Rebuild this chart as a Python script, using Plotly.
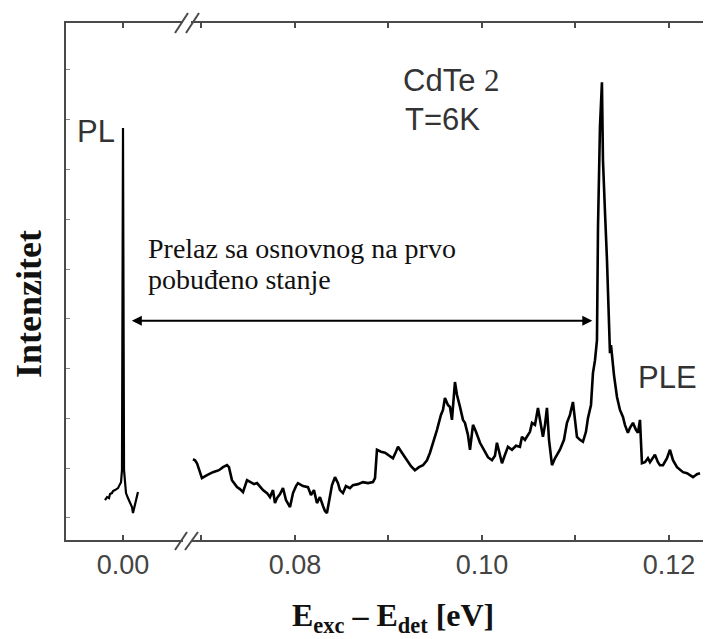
import plotly.graph_objects as go

# ---------------- data ----------------
# PL segment (left part of the broken axis), energy in eV, intensity in a.u.
pl_energy = [-0.00193, -0.00171, -0.00150, -0.00139, -0.00118, -0.00107, -0.00086, -0.00075,
             -0.00053, -0.00043, -0.00021, -0.00011, 0.00000, 0.00011, 0.00021, 0.00032,
             0.00053, 0.00075, 0.00096, 0.00107, 0.00118, 0.00139, 0.00160]
pl_intensity = [3.6, 4.2, 4.0, 4.8, 5.0, 5.4, 5.6, 5.8,
                6.0, 6.4, 7.2, 9.6, 78.3, 9.6, 6.6, 5.0,
                4.0, 3.0, 2.2, 1.0, 2.0, 3.6, 5.2]

# PLE segment (right part of the broken axis)
ple_energy = [0.06909, 0.06931, 0.06952, 0.07005, 0.07059, 0.07123, 0.07187, 0.07230, 0.07273, 0.07294,
              0.07326, 0.07358, 0.07380, 0.07412, 0.07444, 0.07487, 0.07519, 0.07562, 0.07594, 0.07626,
              0.07658, 0.07701, 0.07733, 0.07765, 0.07786, 0.07808, 0.07840, 0.07872, 0.07904, 0.07947,
              0.07979, 0.08011, 0.08032, 0.08086, 0.08139, 0.08171, 0.08203, 0.08235, 0.08267, 0.08300,
              0.08321, 0.08342, 0.08364, 0.08396, 0.08428, 0.08460, 0.08481, 0.08513, 0.08545, 0.08588,
              0.08620, 0.08674, 0.08727, 0.08781, 0.08834, 0.08856, 0.08877, 0.08920, 0.08963, 0.09005,
              0.09048, 0.09080, 0.09102, 0.09144, 0.09198, 0.09241, 0.09283, 0.09326, 0.09369, 0.09412,
              0.09444, 0.09487, 0.09519, 0.09561, 0.09583, 0.09604, 0.09636, 0.09658, 0.09679, 0.09711,
              0.09733, 0.09765, 0.09797, 0.09818, 0.09850, 0.09872, 0.09904, 0.09936, 0.09979, 0.10021,
              0.10064, 0.10107, 0.10139, 0.10160, 0.10182, 0.10214, 0.10246, 0.10278, 0.10321, 0.10364,
              0.10406, 0.10428, 0.10460, 0.10481, 0.10513, 0.10535, 0.10567, 0.10599, 0.10620, 0.10652,
              0.10674, 0.10695, 0.10717, 0.10749, 0.10781, 0.10834, 0.10877, 0.10909, 0.10941, 0.10973,
              0.10995, 0.11016, 0.11048, 0.11080, 0.11112, 0.11134, 0.11166, 0.11187, 0.11209, 0.11230,
              0.11241, 0.11262, 0.11283, 0.11294, 0.11315, 0.11337, 0.11369, 0.11380, 0.11412, 0.11444,
              0.11476, 0.11508, 0.11529, 0.11561, 0.11583, 0.11615, 0.11647, 0.11668, 0.11690, 0.11711,
              0.11743, 0.11775, 0.11797, 0.11829, 0.11850, 0.11882, 0.11904, 0.11936, 0.11979, 0.12011,
              0.12043, 0.12086, 0.12118, 0.12150, 0.12193, 0.12225, 0.12257, 0.12299, 0.12332]
ple_intensity = [11.8, 11.6, 11.0, 8.0, 8.6, 9.2, 9.6, 10.2, 10.6, 10.2,
                 7.6, 6.6, 6.2, 5.8, 5.2, 7.6, 7.2, 6.8, 7.0, 6.2,
                 5.6, 5.0, 4.2, 5.6, 3.0, 4.0, 4.8, 6.0, 3.6, 2.2,
                 5.0, 6.4, 7.0, 6.4, 6.2, 4.6, 5.6, 3.0, 4.2, 2.4,
                 1.4, 1.0, 3.6, 6.6, 8.2, 7.0, 5.6, 5.0, 6.4, 6.0,
                 6.6, 6.8, 7.2, 7.0, 7.2, 8.0, 13.7, 13.3, 13.1, 12.5,
                 12.0, 13.3, 14.3, 13.1, 11.6, 10.4, 9.6, 10.2, 10.6, 11.6,
                 13.1, 15.7, 17.7, 20.7, 21.7, 24.1, 22.7, 22.3, 19.7, 27.3,
                 24.7, 22.3, 19.7, 19.1, 16.7, 13.7, 18.7, 17.3, 15.1, 13.7,
                 12.2, 11.6, 12.5, 15.1, 13.3, 11.0, 12.7, 14.3, 13.7, 14.5,
                 14.3, 16.3, 15.7, 16.3, 17.3, 19.1, 18.7, 22.1, 19.7, 16.3,
                 18.7, 22.1, 15.7, 10.6, 12.0, 13.7, 15.7, 19.1, 20.7, 23.3,
                 19.7, 16.3, 15.7, 15.3, 17.3, 20.1, 22.7, 29.1, 31.7, 35.7,
                 58.4, 78.5, 87.5, 71.9, 61.8, 51.8, 33.1, 34.7, 28.7, 24.3,
                 21.7, 20.3, 18.7, 17.1, 18.1, 19.1, 17.7, 17.1, 19.7, 11.0,
                 11.2, 12.0, 11.2, 12.0, 12.7, 11.2, 10.6, 10.6, 12.0, 13.7,
                 11.6, 10.2, 9.6, 9.2, 9.0, 8.6, 8.2, 8.8, 9.0]

left_ticks = [0.00]
left_ticklabels = ["0.00"]
right_ticks = [0.08, 0.10, 0.12]
right_ticklabels = ["0.08", "0.10", "0.12"]

# ---------------- figure ----------------
W, H = 705, 639
ML, MR, MT, MB = 66, 2, 23, 99
PW, PH = W - ML - MR, H - MT - MB

def px(x):
    return (x - ML) / PW

def py(y):
    return (H - MB - y) / PH

AXC = "#4a4a4a"
TICKFONT = dict(family="Liberation Sans, Arial, sans-serif", size=27, color="#444444")
SANS = "Liberation Sans, Arial, sans-serif"
SERIF = "Liberation Serif, Times New Roman, serif"

fig = go.Figure()
fig.add_trace(go.Scatter(x=pl_energy, y=pl_intensity, xaxis="x", yaxis="y", mode="lines",
                         line=dict(color="black", width=2.2), showlegend=False, hoverinfo="skip"))
fig.add_trace(go.Scatter(x=ple_energy, y=ple_intensity, xaxis="x2", yaxis="y", mode="lines",
                         line=dict(color="black", width=2.6), showlegend=False, hoverinfo="skip"))

common_x = dict(showgrid=False, zeroline=False, showline=True, linecolor=AXC, linewidth=2,
                mirror="ticks", ticks="inside", ticklen=5, tickwidth=1.5, tickcolor=AXC,
                tickfont=TICKFONT, ticklabelstandoff=0)

fig.update_layout(
    width=W, height=H,
    margin=dict(l=ML, r=MR, t=MT, b=MB, pad=0),
    paper_bgcolor="white", plot_bgcolor="white",
    xaxis=dict(domain=[0, px(183)], range=[-0.0061, 0.00642],
               tickvals=left_ticks, ticktext=left_ticklabels, anchor="y", **common_x),
    xaxis2=dict(domain=[px(191), 1], range=[0.06888, 0.12364],
                tickvals=right_ticks, ticktext=right_ticklabels, anchor="y",
                minor=dict(ticks="inside", dtick=0.01, tick0=0.0, ticklen=5,
                           tickwidth=1.5, tickcolor=AXC),
                **common_x),
    yaxis=dict(domain=[0, 1], range=[-4.42, 99.4], showgrid=False, zeroline=False,
               showline=True, linecolor=AXC, linewidth=2, ticks="inside", ticklen=4,
               tickwidth=1.2, tickcolor="#888888", dtick=10, tick0=0, showticklabels=False,
               anchor="x"),
)

# axis break marks "//"
for (x0, y0, x1, y1) in [(175, 550, 187, 532), (185, 550, 198, 532),
                         (175, 33, 188, 13), (186, 33, 199, 13)]:
    fig.add_shape(type="line", xref="paper", yref="paper",
                  x0=px(x0), y0=py(y0), x1=px(x1), y1=py(y1),
                  line=dict(color=AXC, width=2))

def label(x, y, text, font, xanchor="center", angle=0):
    return dict(x=px(x), y=py(y), xref="paper", yref="paper", text=text,
                xanchor=xanchor, yanchor="middle", textangle=angle,
                showarrow=False, font=font)

sans31 = dict(family=SANS, size=31, color="#333333")
serif28 = dict(family=SERIF, size=28, color="#111111")

ann = []
# double-headed arrow between PL and PLE peaks
ann.append(dict(x=0.1118, y=39.6, xref="x2", yref="y", ax=-462, ay=0,
                text="", showarrow=True, arrowside="end+start", arrowhead=2,
                arrowsize=1.0, arrowwidth=2, arrowcolor="black", standoff=0, startstandoff=0))
ann.append(label(96, 131, "PL", sans31))
ann.append(label(401, 81, "CdTe <span style='font-family:Liberation Serif'>2</span>", sans31, "left"))
ann.append(label(403, 119, "T=6K", sans31, "left"))
ann.append(label(667, 377, "PLE", sans31))
ann.append(label(146, 248, "Prelaz sa osnovnog na prvo", serif28, "left"))
ann.append(label(146, 279, "pobuđeno stanje", serif28, "left"))
# axis titles
ann.append(label(393, 617,
                 "<b>E</b><sub><b>exc</b></sub><b> – E</b><sub><b>det</b></sub> <b>[eV]</b>",
                 dict(family=SERIF, size=32, color="#111111")))
ann.append(label(29, 304, "<b>Intenzitet</b>", dict(family=SERIF, size=36, color="#111111"),
                 angle=-90))
fig.update_layout(annotations=ann)

fig.write_html("out.html")
